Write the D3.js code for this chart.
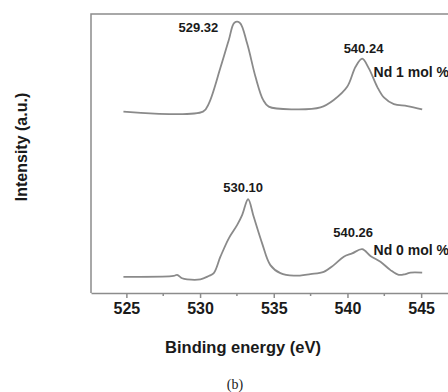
<!DOCTYPE html>
<html>
<head>
<meta charset="utf-8">
<script src="https://cdn.jsdelivr.net/npm/d3@7"></script>
<style>
  html, body { margin: 0; padding: 0; background: #fff; }
  svg { display: block; }
</style>
</head>
<body>
<svg id="chart" width="448" height="392"></svg>
<script>
// O 1s spectra, binding energy (eV) vs intensity (a.u.)
const energyNd1 = [524.8, 530.2, 530.6, 531.4, 531.95, 532.33, 532.69, 533.19, 533.76, 534.28, 534.66, 536.36, 538.17, 539.07, 539.98, 540.55, 541.0, 541.45, 542.02, 542.47, 543.15, 544.06, 545.07];
const intensityNd1 = [65.0, 65.0, 68.0, 81.1, 90.7, 96.9, 96.9, 89.5, 77.5, 69.2, 66.8, 65.8, 66.5, 69.2, 73.9, 81.1, 84.0, 80.5, 73.9, 70.1, 67.7, 67.0, 65.8];

const energyNd0 = [524.8, 528.2, 528.44, 528.78, 529.12, 530.02, 530.59, 530.93, 531.38, 531.95, 532.52, 532.86, 533.26, 533.64, 534.21, 534.77, 535.45, 536.36, 537.49, 538.39, 539.07, 539.75, 540.32, 541.0, 541.56, 542.24, 542.92, 543.48, 543.94, 544.28, 545.07];
const intensityNd0 = [5.8, 6.1, 6.5, 5.3, 4.9, 4.9, 6.1, 7.1, 13.0, 19.6, 24.4, 28.0, 33.6, 27.3, 17.8, 10.0, 7.1, 6.2, 6.8, 7.6, 10.0, 13.0, 14.2, 15.7, 13.3, 11.2, 8.2, 6.5, 6.8, 7.3, 7.3];

const xTicks = [525, 530, 535, 540, 545];
const xMinorTicks = [527.5, 532.5, 537.5, 542.5];

// peak annotations: text and the (eV, intensity) point they sit at
const peakLabels = ["529.32", "540.24", "530.10", "540.26"];
const peakLabelAt = [[529.89, 95.3], [541.09, 87.8], [532.92, 38.0], [540.39, 21.6]];
const seriesNames = ["Nd 1 mol %", "Nd 0 mol %"];
const seriesNameAt = [[541.77, 79.3], [541.77, 15.4]];

const svg = d3.select("#chart");
const plotLeft = 91, plotTop = 14, plotBottom = 293, plotRight = 458;

const x = d3.scaleLinear().domain([522.6, 547.5]).range([plotLeft, plotRight]);
const y = d3.scaleLinear().domain([0, 100]).range([plotBottom, plotTop]);

const frameColor = "#8c8c8c";
const sans = "'Liberation Sans', Arial, Helvetica, sans-serif";

// frame: top and left edges
svg.append("path")
  .attr("d", `M${plotRight},${plotTop}H${plotLeft}V${plotBottom}`)
  .attr("fill", "none")
  .attr("stroke", frameColor)
  .attr("stroke-width", 1.5);

// bottom axis
const xAxis = svg.append("g").attr("transform", `translate(0,${plotBottom})`)
  .call(d3.axisBottom(x).tickValues(xTicks).tickSize(5).tickSizeOuter(0).tickFormat(d3.format("d")));
xAxis.select(".domain").attr("stroke", frameColor).attr("stroke-width", 1.5);
xAxis.selectAll(".tick line").attr("stroke", frameColor).attr("stroke-width", 1.5);
xAxis.selectAll(".tick text")
  .attr("fill", "#1a1a1a")
  .attr("font-family", sans)
  .attr("font-weight", "bold")
  .attr("font-size", 16)
  .attr("dy", null)
  .attr("y", 21);

xAxis.selectAll(".minor").data(xMinorTicks).join("line")
  .attr("class", "minor")
  .attr("x1", d => x(d)).attr("x2", d => x(d))
  .attr("y1", 0).attr("y2", 3)
  .attr("stroke", frameColor).attr("stroke-width", 1.5);

// spectra
const line = d3.line().x(d => x(d[0])).y(d => y(d[1])).curve(d3.curveCatmullRom.alpha(0.5));
const traces = [d3.zip(energyNd1, intensityNd1), d3.zip(energyNd0, intensityNd0)];
svg.selectAll(".trace").data(traces).join("path")
  .attr("class", "trace")
  .attr("d", line)
  .attr("fill", "none")
  .attr("stroke", "#8a8a8a")
  .attr("stroke-width", 1.8)
  .attr("stroke-linejoin", "round");

// peak value labels
svg.selectAll(".peak").data(peakLabels).join("text")
  .attr("class", "peak")
  .attr("x", (d, i) => x(peakLabelAt[i][0]))
  .attr("y", (d, i) => y(peakLabelAt[i][1]))
  .attr("dy", "0.36em")
  .attr("text-anchor", "middle")
  .attr("font-family", sans)
  .attr("font-weight", "bold")
  .attr("font-size", 13)
  .attr("fill", "#1a1a1a")
  .text(d => d);

// series names
svg.selectAll(".series").data(seriesNames).join("text")
  .attr("class", "series")
  .attr("x", (d, i) => x(seriesNameAt[i][0]))
  .attr("y", (d, i) => y(seriesNameAt[i][1]))
  .attr("dy", "0.36em")
  .attr("font-family", sans)
  .attr("font-weight", "bold")
  .attr("font-size", 14)
  .attr("fill", "#1a1a1a")
  .text(d => d);

// axis titles
svg.append("text")
  .attr("x", 243).attr("y", 347).attr("dy", "0.36em")
  .attr("text-anchor", "middle")
  .attr("font-family", sans).attr("font-weight", "bold").attr("font-size", 16.5)
  .attr("fill", "#1a1a1a")
  .text("Binding energy (eV)");

svg.append("text")
  .attr("transform", "translate(21,147) rotate(-90)")
  .attr("dy", "0.36em")
  .attr("text-anchor", "middle")
  .attr("font-family", sans).attr("font-weight", "bold").attr("font-size", 16)
  .attr("fill", "#1a1a1a")
  .text("Intensity (a.u.)");

// panel tag
svg.append("text")
  .attr("x", 235).attr("y", 384).attr("dy", "0.36em")
  .attr("text-anchor", "middle")
  .attr("font-family", "'Liberation Serif', 'Times New Roman', serif").attr("font-size", 14)
  .attr("fill", "#222")
  .text("(b)");
</script>
</body>
</html>
